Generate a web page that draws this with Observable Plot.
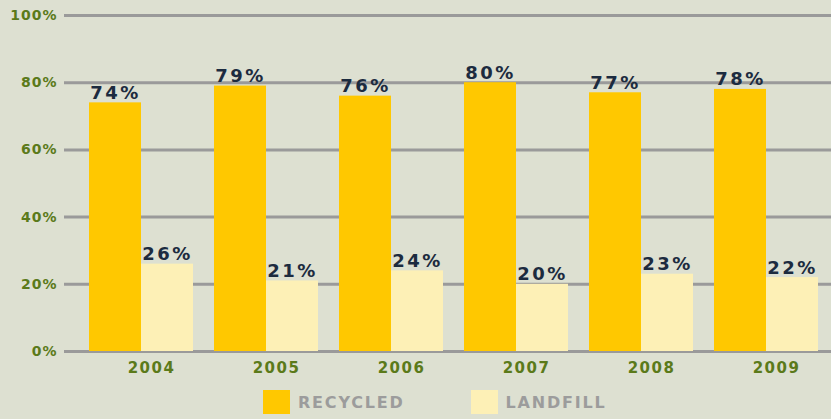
<!DOCTYPE html>
<html>
<head>
<meta charset="utf-8">
<script src="https://cdn.jsdelivr.net/npm/d3@7"></script>
<script src="https://cdn.jsdelivr.net/npm/@observablehq/plot@0.6"></script>
<style>
  html, body { margin: 0; padding: 0; background: #dde0d1; }
  #wrap { position: relative; width: 831px; height: 385px; }
  #wrap svg { position: absolute; left: 0; top: 0; }
  #wrap svg text { letter-spacing: 1px; }
  #wrap .fg g[aria-label="text"] text { letter-spacing: 2.5px; }
  #wrap .fg g[aria-label^="fx-axis"] text { font-size: 15px; letter-spacing: 1.5px; }
  #legend { display: flex; align-items: center; height: 34px; padding-left: 263px; font-family: "DejaVu Sans", sans-serif; font-weight: bold; font-size: 16px; letter-spacing: 1.8px; color: #9c9c9c; }
  .item { display: flex; align-items: center; }
  .sw { width: 27px; height: 24px; margin-right: 8px; }
</style>
</head>
<body>
<div id="wrap"></div>
<div id="legend"></div>
<script>
const years = ["2004", "2005", "2006", "2007", "2008", "2009"];
const recycled = [74, 79, 76, 80, 77, 78];
const landfill = [26, 21, 24, 20, 23, 22];
const seriesNames = ["RECYCLED", "LANDFILL"];
const seriesColors = ["#ffc800", "#fdf0b6"];
const yTicks = [0, 20, 40, 60, 80, 100];

const rows = [];
years.forEach((year, i) => {
  rows.push({year, series: seriesNames[0], value: recycled[i]});
  rows.push({year, series: seriesNames[1], value: landfill[i]});
});

const W = 831, H = 385, MT = 15, MB = 34;
const font = {fontFamily: "DejaVu Sans, sans-serif", fontSize: "14px", fontWeight: "bold", background: "transparent", overflow: "visible"};

const bg = Plot.plot({
  width: W, height: H, marginTop: MT, marginBottom: MB, marginLeft: 64, marginRight: 0,
  style: {...font, color: "#5b7a1a"},
  y: {domain: [0, 100], ticks: yTicks, tickFormat: d => d + "%", tickSize: 0, tickPadding: 7, label: null},
  marks: [
    Plot.ruleY(yTicks, {stroke: "#9a9a9a", strokeWidth: 3})
  ]
});

const fg = Plot.plot({
  width: W, height: H, marginTop: MT, marginBottom: MB, marginLeft: 76, marginRight: 0,
  style: {...font, color: "#5b7a1a"},
  facet: {data: rows, x: "year"},
  fx: {domain: years, paddingInner: 0.17, paddingOuter: 0.1, axis: "bottom", tickSize: 0, tickPadding: 11, label: null},
  x: {domain: seriesNames, padding: 0, axis: null},
  y: {domain: [0, 100], axis: null},
  color: {domain: seriesNames, range: seriesColors},
  marks: [
    Plot.barY(rows, {x: "series", y: "value", fill: "series"}),
    Plot.text(rows, {x: "series", y: "value", text: d => d.value + "%", dy: -4, lineAnchor: "bottom", fill: "#1c2b3f", fontSize: 18, fontWeight: "bold"})
  ]
});
fg.classList.add("fg");
fg.querySelectorAll('g[aria-label^="fx-axis"] text').forEach(t => t.setAttribute("dx", "10"));

document.getElementById("wrap").append(bg, fg);

const legend = document.getElementById("legend");
seriesNames.forEach((name, i) => {
  const item = document.createElement("div");
  item.className = "item";
  if (i > 0) item.style.marginLeft = "66px";
  const sw = document.createElement("div");
  sw.className = "sw";
  sw.style.background = seriesColors[i];
  const label = document.createElement("span");
  label.textContent = name;
  item.append(sw, label);
  legend.append(item);
});
</script>
</body>
</html>
